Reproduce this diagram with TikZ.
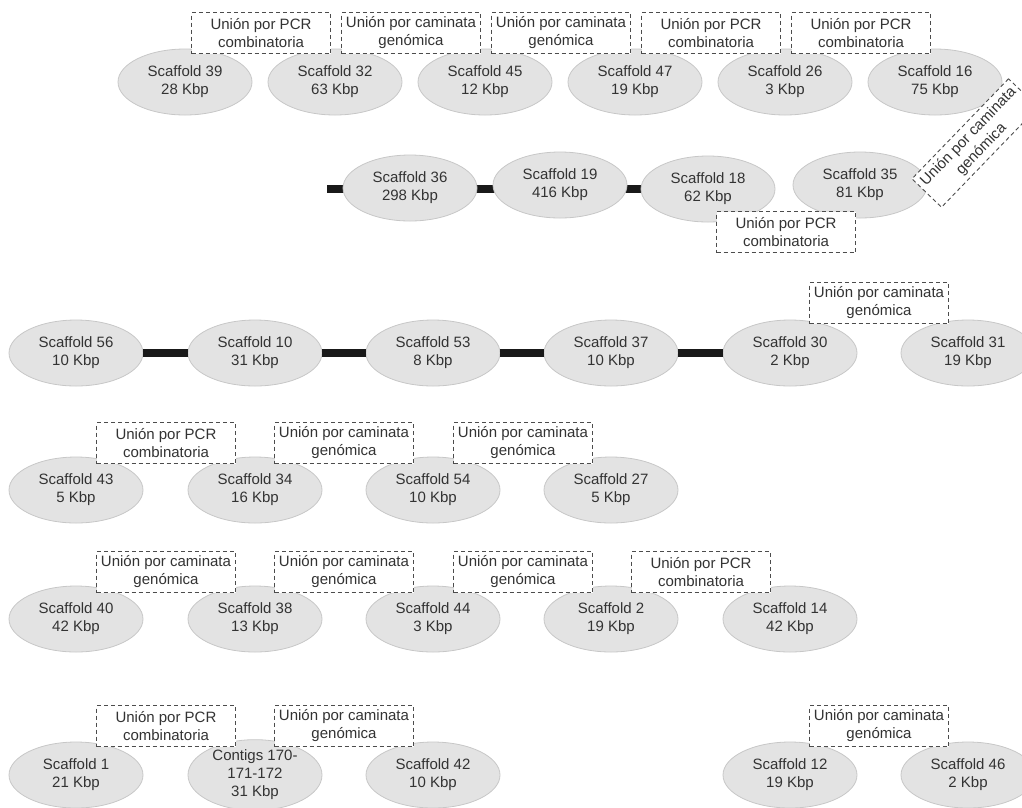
\documentclass[tikz,border=0pt]{standalone}
\usepackage{fontspec}
\setmainfont{Liberation Sans}
\usepackage{tikz}
\usetikzlibrary{shapes.geometric,backgrounds}

\begin{document}
\begin{tikzpicture}[x=1pt,y=-1pt,font=\fontsize{15}{18}\selectfont,
  scaf/.style={ellipse,fill=black!11,draw=black!22,line width=0.8pt,minimum width=134pt,minimum height=66pt,inner sep=0pt,align=center,text=black!80},
  joinbox/.style={rectangle,fill=white,draw=black!70,dash pattern=on 4pt off 3pt,line width=0.9pt,minimum width=139pt,minimum height=41pt,inner sep=0pt,align=center,text=black!80},
  link/.style={draw=black!90,line width=7.5pt}]
\useasboundingbox (0,0) rectangle (1022,807);
\clip (0,0) rectangle (1022,807);
\node[scaf] (s39) at (185,82) {Scaffold 39\\28 Kbp};
\node[scaf] (s32) at (335,82) {Scaffold 32\\63 Kbp};
\node[scaf] (s45) at (485,82) {Scaffold 45\\12 Kbp};
\node[scaf] (s47) at (635,82) {Scaffold 47\\19 Kbp};
\node[scaf] (s26) at (785,82) {Scaffold 26\\3 Kbp};
\node[scaf] (s16) at (935,82) {Scaffold 16\\75 Kbp};
\node[scaf] (s36) at (410,188) {Scaffold 36\\298 Kbp};
\node[scaf] (s19) at (560,185) {Scaffold 19\\416 Kbp};
\node[scaf] (s18) at (708,189) {Scaffold 18\\62 Kbp};
\node[scaf] (s35) at (860,185) {Scaffold 35\\81 Kbp};
\node[scaf] (s56) at (76,353) {Scaffold 56\\10 Kbp};
\node[scaf] (s10) at (255,353) {Scaffold 10\\31 Kbp};
\node[scaf] (s53) at (433,353) {Scaffold 53\\8 Kbp};
\node[scaf] (s37) at (611,353) {Scaffold 37\\10 Kbp};
\node[scaf] (s30) at (790,353) {Scaffold 30\\2 Kbp};
\node[scaf] (s31) at (968,353) {Scaffold 31\\19 Kbp};
\node[scaf] (s43) at (76,490) {Scaffold 43\\5 Kbp};
\node[scaf] (s34) at (255,490) {Scaffold 34\\16 Kbp};
\node[scaf] (s54) at (433,490) {Scaffold 54\\10 Kbp};
\node[scaf] (s27) at (611,490) {Scaffold 27\\5 Kbp};
\node[scaf] (s40) at (76,619) {Scaffold 40\\42 Kbp};
\node[scaf] (s38) at (255,619) {Scaffold 38\\13 Kbp};
\node[scaf] (s44) at (433,619) {Scaffold 44\\3 Kbp};
\node[scaf] (s2) at (611,619) {Scaffold 2\\19 Kbp};
\node[scaf] (s14) at (790,619) {Scaffold 14\\42 Kbp};
\node[scaf] (s1) at (76,775) {Scaffold 1\\21 Kbp};
\node[scaf] (c170) at (255,775) {Contigs 170-\\171-172\\31 Kbp};
\node[scaf] (s42) at (433,775) {Scaffold 42\\10 Kbp};
\node[scaf] (s12) at (790,775) {Scaffold 12\\19 Kbp};
\node[scaf] (s46) at (968,775) {Scaffold 46\\2 Kbp};
\coordinate (stub) at (327,189);
\begin{scope}[on background layer]
\draw[link] (stub) -- (stub -| s36.center);
\draw[link] (stub -| s36.center) -- (stub -| s19.center);
\draw[link] (stub -| s19.center) -- (stub -| s18.center);
\end{scope}
\draw[link] (s56) -- (s10);
\draw[link] (s10) -- (s53);
\draw[link] (s53) -- (s37);
\draw[link] (s37) -- (s30);
\node[joinbox] (j11) at (261,33) {Unión por PCR\\combinatoria};
\node[joinbox] (j12) at (411,33) {Unión por caminata\\genómica};
\node[joinbox] (j13) at (561,33) {Unión por caminata\\genómica};
\node[joinbox] (j14) at (711,33) {Unión por PCR\\combinatoria};
\node[joinbox] (j15) at (861,33) {Unión por PCR\\combinatoria};
\node[joinbox,rotate=46] (j16) at (975,143) {Unión por caminata\\genómica};
\node[joinbox] (j21) at (786,232) {Unión por PCR\\combinatoria};
\node[joinbox] (j31) at (879,303) {Unión por caminata\\genómica};
\node[joinbox] (j41) at (166,443) {Unión por PCR\\combinatoria};
\node[joinbox] (j42) at (344,443) {Unión por caminata\\genómica};
\node[joinbox] (j43) at (523,443) {Unión por caminata\\genómica};
\node[joinbox] (j51) at (166,572) {Unión por caminata\\genómica};
\node[joinbox] (j52) at (344,572) {Unión por caminata\\genómica};
\node[joinbox] (j53) at (523,572) {Unión por caminata\\genómica};
\node[joinbox] (j54) at (701,572) {Unión por PCR\\combinatoria};
\node[joinbox] (j61) at (166,726) {Unión por PCR\\combinatoria};
\node[joinbox] (j62) at (344,726) {Unión por caminata\\genómica};
\node[joinbox] (j63) at (879,726) {Unión por caminata\\genómica};
\end{tikzpicture}
\end{document}
